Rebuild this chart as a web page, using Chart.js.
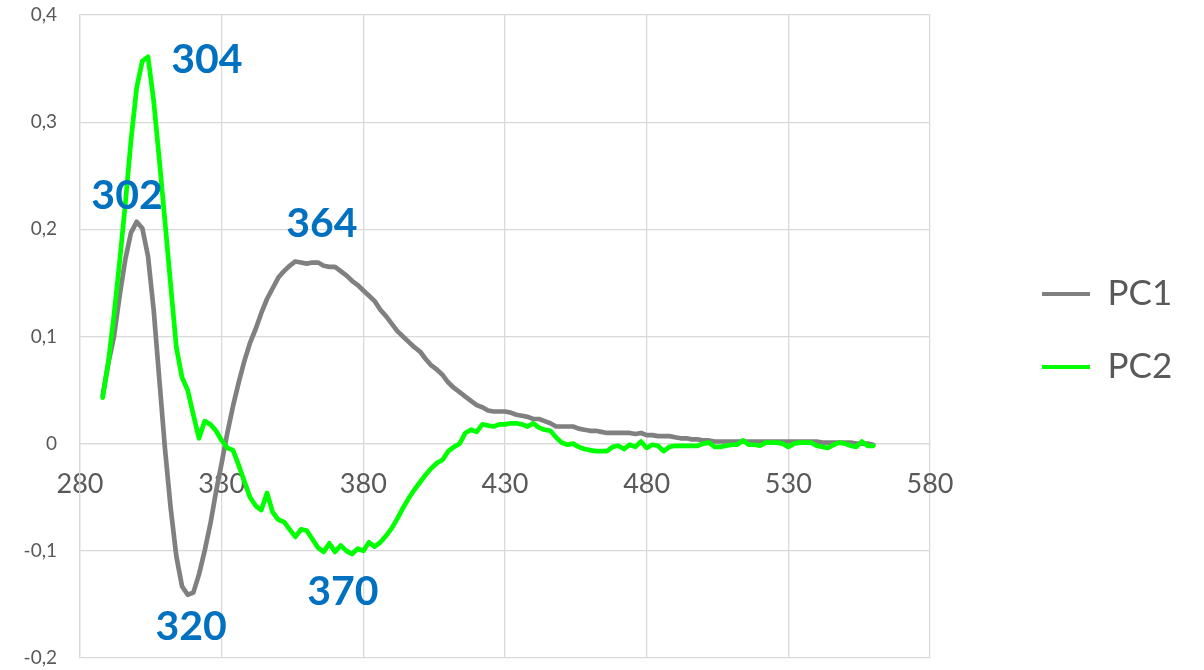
<!DOCTYPE html>
<html>
<head>
<meta charset="utf-8">
<script src="https://cdn.jsdelivr.net/npm/chart.js@4.4.1/dist/chart.umd.min.js"></script>
<style>
  html, body { margin: 0; padding: 0; background: #ffffff; }
  #wrap { width: 1204px; height: 670px; position: relative; }
</style>
</head>
<body>
<div id="wrap"><canvas id="c" width="1204" height="670"></canvas></div>
<script>
// Wavelength (nm)
const wavelengths = [
  288,290,292,294,296,298,300,302,304,306,308,310,312,314,316,318,320,322,324,326,
  328,330,332,334,336,338,340,342,344,346,348,350,352,354,356,358,360,362,364,366,
  368,370,372,374,376,378,380,382,384,386,388,390,392,394,396,398,400,402,404,406,
  408,410,412,414,416,418,420,422,424,426,428,430,432,434,436,438,440,442,444,446,
  448,450,452,454,456,458,460,462,464,466,468,470,472,474,476,478,480,482,484,486,
  488,490,492,494,496,498,500,502,504,506,508,510,512,514,516,518,520,522,524,526,
  528,530,532,534,536,538,540,542,544,546,548,550,552,554,556,558,560
];

const pc1 = [
  0.045,0.075,0.100,0.138,0.172,0.197,0.207,0.201,0.175,0.125,0.060,-0.005,-0.060,-0.105,-0.133,-0.141,-0.139,-0.122,-0.100,-0.075,
  -0.045,-0.018,0.010,0.035,0.057,0.077,0.094,0.107,0.122,0.135,0.145,0.155,0.161,0.166,0.170,0.169,0.168,0.169,0.169,0.166,
  0.165,0.165,0.161,0.157,0.152,0.148,0.143,0.138,0.133,0.125,0.119,0.112,0.105,0.100,0.095,0.090,0.086,0.079,0.073,0.069,
  0.064,0.057,0.052,0.048,0.044,0.040,0.036,0.034,0.031,0.030,0.030,0.030,0.029,0.027,0.026,0.025,0.023,0.023,0.021,0.019,
  0.016,0.016,0.016,0.016,0.014,0.013,0.012,0.012,0.011,0.010,0.010,0.010,0.010,0.010,0.009,0.010,0.008,0.008,0.007,0.007,
  0.007,0.006,0.005,0.005,0.004,0.004,0.003,0.003,0.002,0.002,0.002,0.002,0.002,0.002,0.002,0.002,0.002,0.002,0.002,0.002,
  0.002,0.002,0.002,0.002,0.002,0.002,0.002,0.001,0.001,0.001,0.001,0.001,0.001,0.000,0.000,0.000,-0.001
];

const pc2 = [
  0.043,0.076,0.120,0.170,0.224,0.283,0.332,0.357,0.361,0.320,0.265,0.207,0.148,0.090,0.062,0.050,0.027,0.005,0.021,0.018,
  0.012,0.003,-0.004,-0.006,-0.020,-0.035,-0.050,-0.058,-0.062,-0.046,-0.064,-0.071,-0.073,-0.080,-0.087,-0.080,-0.081,-0.089,-0.097,-0.101,
  -0.093,-0.101,-0.095,-0.100,-0.103,-0.098,-0.100,-0.092,-0.096,-0.092,-0.086,-0.079,-0.070,-0.060,-0.051,-0.043,-0.036,-0.029,-0.023,-0.018,
  -0.015,-0.007,-0.003,0.000,0.010,0.013,0.011,0.018,0.017,0.016,0.018,0.018,0.019,0.019,0.018,0.016,0.019,0.015,0.013,0.012,
  0.006,0.001,-0.001,0.000,-0.003,-0.005,-0.006,-0.007,-0.007,-0.007,-0.003,-0.002,-0.005,-0.001,-0.003,0.002,-0.004,-0.001,-0.002,-0.007,
  -0.003,-0.002,-0.002,-0.002,-0.002,-0.002,0.000,0.001,-0.003,-0.003,-0.002,-0.001,-0.001,0.003,-0.001,-0.001,-0.002,0.001,0.001,0.001,
  0.000,-0.003,0.000,0.001,0.001,0.001,-0.002,-0.003,-0.004,-0.001,0.001,0.000,-0.002,-0.003,0.002,-0.002,-0.002
];

const xTicks = [280, 330, 380, 430, 480, 530, 580];
const yTicks = [-0.2, -0.1, 0, 0.1, 0.2, 0.3, 0.4];

const peakLabels = [
  { text: '302', x: 296.6, y: 0.231 },
  { text: '304', x: 324.8, y: 0.358 },
  { text: '364', x: 365.4, y: 0.205 },
  { text: '320', x: 319.2, y: -0.171 },
  { text: '370', x: 372.8, y: -0.138 }
];

const FONT = "Lato, 'Open Sans', sans-serif";
const TXT = '#595959';
const GRID = '#D9D9D9';

const toXY = arr => arr.map((v, i) => ({ x: wavelengths[i], y: v }));

const peakLabelPlugin = {
  id: 'peakLabels',
  afterDatasetsDraw(chart) {
    const { ctx, scales } = chart;
    ctx.save();
    ctx.font = "bold 41px " + FONT;
    ctx.fillStyle = '#0070C0';
    ctx.textAlign = 'center';
    ctx.textBaseline = 'middle';
    peakLabels.forEach(l => {
      ctx.fillText(l.text, scales.x.getPixelForValue(l.x), scales.y.getPixelForValue(l.y));
    });
    ctx.restore();
  }
};

const legendTweak = {
  id: 'legendTweak',
  afterInit(chart) {
    const lg = chart.legend;
    if (!lg) return;
    const origFit = lg.fit;
    lg.fit = function () { origFit.call(this); this.width = 200; };
    const origDraw = lg.draw;
    lg.draw = function () {
      const c = this.ctx; c.save(); c.translate(0, -6); origDraw.call(this); c.restore();
    };
  }
};

new Chart(document.getElementById('c'), {
  type: 'line',
  data: {
    datasets: [
      { label: 'PC1', data: toXY(pc1), borderColor: '#808080', backgroundColor: '#808080',
        borderWidth: 4.7, pointRadius: 0, tension: 0, borderJoinStyle: 'round', borderCapStyle: 'round', order: 1 },
      { label: 'PC2', data: toXY(pc2), borderColor: '#00FF00', backgroundColor: '#00FF00',
        borderWidth: 4.7, pointRadius: 0, tension: 0, borderJoinStyle: 'round', borderCapStyle: 'round', order: 0 }
    ]
  },
  options: {
    responsive: false,
    animation: false,
    devicePixelRatio: 1,
    layout: { padding: { left: 0, top: 15, bottom: 12, right: 0 } },
    scales: {
      x: {
        type: 'linear',
        position: { y: 0 },
        min: 280, max: 580,
        afterBuildTicks: s => { s.ticks = xTicks.map(v => ({ value: v })); },
        ticks: { font: { family: FONT, size: 27 }, color: TXT, padding: 24,
                 callback: v => String(v) },
        grid: { color: GRID, lineWidth: 1.3, drawTicks: false },
        border: { color: GRID, width: 1.3 }
      },
      y: {
        type: 'linear',
        position: 'left',
        min: -0.2, max: 0.4,
        afterBuildTicks: s => { s.ticks = yTicks.map(v => ({ value: v })); },
        afterFit: s => { s.width = 80; s.paddingTop = 0; s.paddingBottom = 0; },
        ticks: { font: { family: FONT, size: 19 }, color: TXT, padding: 23,
                 callback: v => (Math.abs(v) < 1e-9 ? '0' : v.toFixed(1).replace('.', ',')) },
        grid: { color: GRID, lineWidth: 1.3, drawTicks: false },
        border: { color: GRID, width: 1.3 }
      },
      spacer: {
        type: 'linear',
        position: 'right',
        display: true,
        grid: { display: false },
        border: { display: false },
        ticks: { display: false },
        afterFit: s => { s.width = 74; s.paddingTop = 0; s.paddingBottom = 0; }
      }
    },
    plugins: {
      legend: {
        position: 'right',
        align: 'center',
        labels: {
          font: { family: FONT, size: 35 },
          color: TXT,
          boxWidth: 48,
          boxHeight: 4,
          padding: 38,
          generateLabels: chart => chart.data.datasets.map((d, i) => ({
            text: d.label, fillStyle: d.borderColor, strokeStyle: d.borderColor,
            lineWidth: 0, hidden: false, datasetIndex: i, fontColor: TXT
          }))
        }
      },
      tooltip: { enabled: false }
    }
  },
  plugins: [peakLabelPlugin, legendTweak]
});
</script>
</body>
</html>
